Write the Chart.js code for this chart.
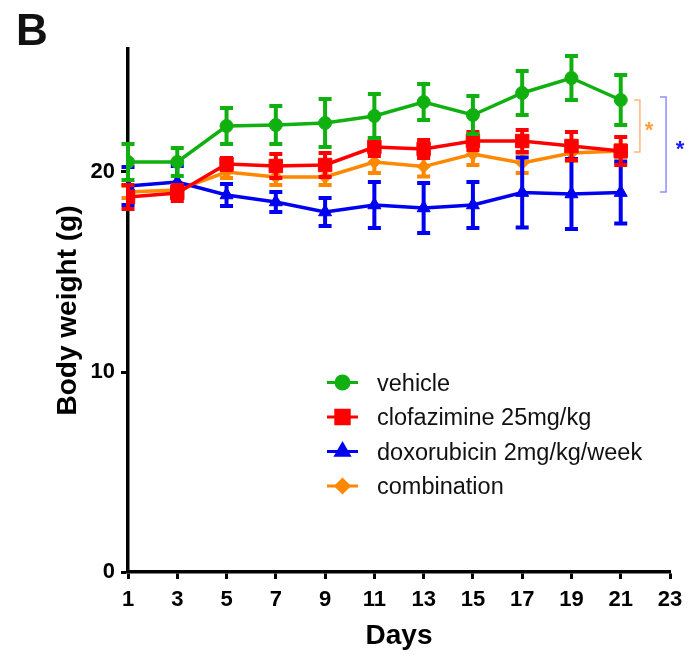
<!DOCTYPE html>
<html>
<head>
<meta charset="utf-8">
<script src="https://cdn.jsdelivr.net/npm/chart.js@4.4.1/dist/chart.umd.min.js"></script>
<style>
  html, body { margin: 0; padding: 0; background: #fff; }
  #wrap { position: relative; width: 699px; height: 656px; }
</style>
</head>
<body>
<div id="wrap"><canvas id="chartWeight" width="699" height="656"></canvas></div>
<script>
// data
const days = [1, 3, 5, 7, 9, 11, 13, 15, 17, 19, 21];
const xTicks = [1, 3, 5, 7, 9, 11, 13, 15, 17, 19, 21, 23];
const yTicks = [0, 10, 20];

const vehicle     = [20.5, 20.5, 22.3, 22.35, 22.45, 22.8, 23.5, 22.85, 23.95, 24.7, 23.6];
const vehicleErr  = [0.9, 0.7, 0.9, 0.95, 1.2, 1.1, 0.9, 0.95, 1.1, 1.1, 1.25];
const clofaz      = [18.75, 18.95, 20.4, 20.3, 20.35, 21.25, 21.15, 21.55, 21.55, 21.3, 21.05];
const clofazErr   = [0.6, 0.4, 0.3, 0.6, 0.6, 0.45, 0.45, 0.45, 0.55, 0.7, 0.7];
const doxo        = [19.3, 19.5, 18.85, 18.5, 18.0, 18.35, 18.2, 18.35, 18.97, 18.9, 18.97];
const doxoErr     = [0.95, 0.8, 0.55, 0.5, 0.7, 1.15, 1.25, 1.15, 1.75, 1.75, 1.55];
const combo       = [19.0, 19.1, 20.0, 19.75, 19.75, 20.5, 20.27, 20.9, 20.45, 20.95, 21.05];
const comboErr    = [0.3, 0.3, 0.3, 0.4, 0.4, 0.55, 0.5, 0.55, 0.5, 0.4, 0.3];

// significance brackets: [x (days), from value, to value, colour, star colour, star offset px]
const brackets = [
  [21.78, 23.6, 21.0, '#ffb877', '#ff9f3a', 9],
  [22.84, 23.75, 19.0, '#8f8fff', '#1a1aff', 14]
];

const GREEN = '#10b010', RED = '#ff0000', BLUE = '#0000f0', ORANGE = '#ff8800';
const FONT = '"Liberation Sans", Arial, sans-serif';

function series(label, vals, errs, color, style, radius) {
  return {
    label: label,
    data: days.map((d, i) => ({x: d, y: vals[i]})),
    errors: errs,
    borderColor: color,
    backgroundColor: color,
    borderWidth: 3.5,
    pointStyle: style,
    pointRadius: radius,
    pointHoverRadius: radius,
    pointBorderWidth: 1,
    tension: 0
  };
}

const errorBars = {
  id: 'errorBars',
  beforeDatasetDraw(chart, args) {
    const ds = chart.data.datasets[args.index];
    const y = chart.scales.y;
    const ctx = chart.ctx;
    ctx.save();
    ctx.strokeStyle = ds.borderColor;
    ctx.lineWidth = 4;
    args.meta.data.forEach((pt, i) => {
      const v = ds.data[i].y, e = ds.errors[i];
      const top = y.getPixelForValue(v + e), bot = y.getPixelForValue(v - e);
      ctx.beginPath();
      ctx.moveTo(pt.x, top); ctx.lineTo(pt.x, bot);
      ctx.moveTo(pt.x - 6.5, top); ctx.lineTo(pt.x + 6.5, top);
      ctx.moveTo(pt.x - 6.5, bot); ctx.lineTo(pt.x + 6.5, bot);
      ctx.stroke();
    });
    ctx.restore();
  }
};

const extras = {
  id: 'extras',
  afterDraw(chart) {
    const ctx = chart.ctx, xs = chart.scales.x, ys = chart.scales.y;
    ctx.save();
    // panel letter
    ctx.fillStyle = '#111';
    ctx.font = 'bold 44px ' + FONT;
    ctx.textBaseline = 'alphabetic';
    ctx.textAlign = 'left';
    ctx.fillText('B', 16, 45);

    // brackets
    brackets.forEach(b => {
      const bx = xs.getPixelForValue(b[0]);
      const t = ys.getPixelForValue(b[1]), btm = ys.getPixelForValue(b[2]);
      ctx.strokeStyle = b[3];
      ctx.lineWidth = 1.5;
      ctx.beginPath();
      ctx.moveTo(bx - 6, t); ctx.lineTo(bx, t); ctx.lineTo(bx, btm); ctx.lineTo(bx - 6, btm);
      ctx.stroke();
      ctx.fillStyle = b[4];
      ctx.font = 'bold 22px ' + FONT;
      ctx.textAlign = 'center';
      ctx.textBaseline = 'middle';
      ctx.fillText('*', bx + b[5], (t + btm) / 2 + 5);
    });

    // legend inside the plot
    const lx = 327, ly = 382.5, gap = 34.5;
    chart.data.datasets.forEach((ds, i) => {
      const yy = ly + i * gap;
      ctx.strokeStyle = ds.borderColor;
      ctx.lineWidth = 3;
      ctx.beginPath();
      ctx.moveTo(lx, yy); ctx.lineTo(lx + 31, yy);
      ctx.stroke();
      ctx.fillStyle = ds.backgroundColor;
      Chart.helpers.drawPoint(ctx, {pointStyle: ds.pointStyle, radius: ds.pointRadius, borderWidth: 1}, lx + 15.5, yy);
      ctx.fillStyle = '#111';
      ctx.font = '23.5px ' + FONT;
      ctx.textAlign = 'left';
      ctx.textBaseline = 'middle';
      ctx.fillText(ds.label, lx + 50, yy + 2);
    });
    ctx.restore();
  }
};

new Chart('chartWeight', {
  type: 'line',
  data: {
    datasets: [
      series('vehicle', vehicle, vehicleErr, GREEN, 'circle', 6.5),
      series('clofazimine 25mg/kg', clofaz, clofazErr, RED, 'rect', 9.5),
      series('doxorubicin 2mg/kg/week', doxo, doxoErr, BLUE, 'triangle', 7.5),
      series('combination', combo, comboErr, ORANGE, 'rectRot', 6.5)
    ]
  },
  options: {
    responsive: false,
    animation: false,
    events: [],
    layout: { padding: { top: 49, right: 29, left: 0, bottom: 0 } },
    plugins: { legend: { display: false }, tooltip: { enabled: false } },
    scales: {
      x: {
        type: 'linear',
        min: 1,
        max: 23,
        afterBuildTicks: s => { s.ticks = xTicks.map(v => ({value: v})); },
        afterFit: s => { s.height = 84; },
        border: { display: true, width: 3.5, color: '#000' },
        grid: { drawOnChartArea: false, drawTicks: true, tickLength: 7, tickWidth: 3, tickColor: '#000' },
        ticks: {
          color: '#000',
          padding: 8,
          maxRotation: 0,
          autoSkip: false,
          font: { family: FONT, size: 22, weight: 'bold' }
        },
        title: {
          display: true,
          text: 'Days',
          color: '#000',
          padding: { top: 0, bottom: 3 },
          font: { family: FONT, size: 28, weight: 'bold' }
        }
      },
      y: {
        min: 0,
        max: 26.15,
        afterBuildTicks: s => { s.ticks = yTicks.map(v => ({value: v})); },
        afterFit: s => { s.width = 128; },
        border: { display: true, width: 3.5, color: '#000' },
        grid: { drawOnChartArea: false, drawTicks: true, tickLength: 7, tickWidth: 3, tickColor: '#000' },
        ticks: {
          color: '#000',
          padding: 6,
          font: { family: FONT, size: 22, weight: 'bold' }
        },
        title: {
          display: true,
          text: 'Body weight (g)',
          color: '#000',
          padding: { top: 51, bottom: 0 },
          font: { family: FONT, size: 28, weight: 'bold' }
        }
      }
    }
  },
  plugins: [errorBars, extras]
});
</script>
</body>
</html>
